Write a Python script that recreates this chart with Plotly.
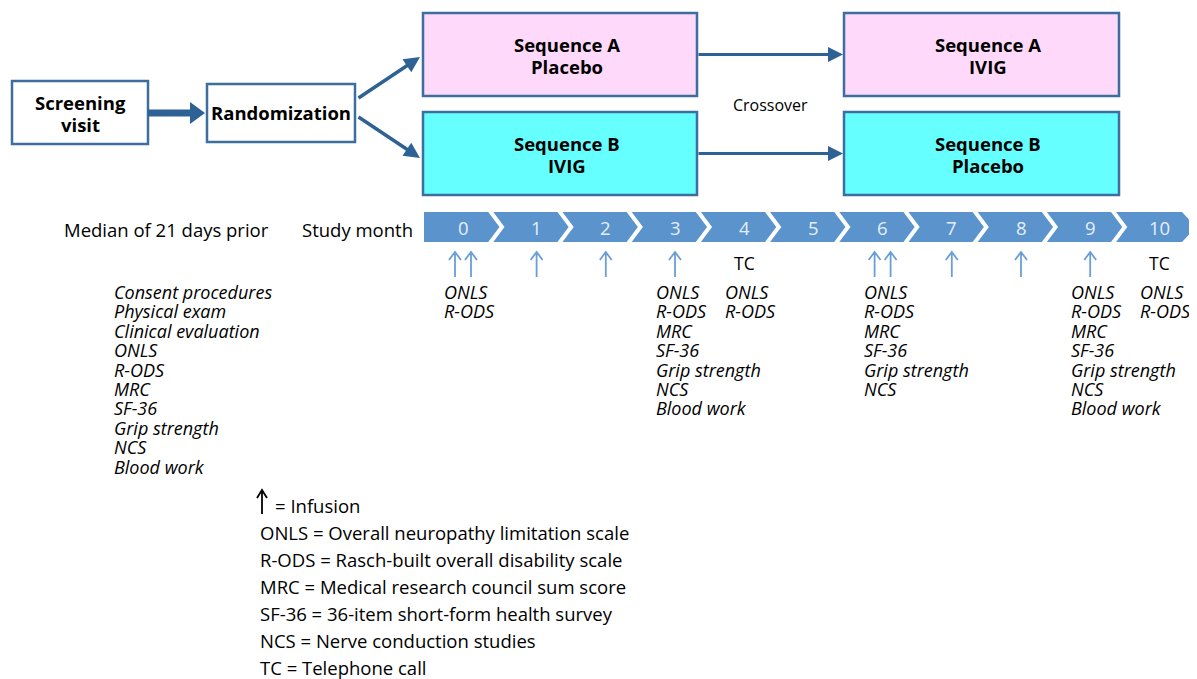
import plotly.graph_objects as go

# ---------------- data ----------------
months = list(range(11))
infusions_per_month = [2, 1, 1, 1, 0, 0, 2, 1, 1, 1, 0]
phone_call_months = [4, 10]
assess_months = [0, 3, 4, 6, 9, 10]
assess_lists = [
    ["ONLS", "R-ODS"],
    ["ONLS", "R-ODS", "MRC", "SF-36", "Grip strength", "NCS", "Blood work"],
    ["ONLS", "R-ODS"],
    ["ONLS", "R-ODS", "MRC", "SF-36", "Grip strength", "NCS"],
    ["ONLS", "R-ODS", "MRC", "SF-36", "Grip strength", "NCS", "Blood work"],
    ["ONLS", "R-ODS"],
]
screening_items = ["Consent procedures", "Physical exam", "Clinical evaluation", "ONLS",
                   "R-ODS", "MRC", "SF-36", "Grip strength", "NCS", "Blood work"]
legend_items = ["ONLS = Overall neuropathy limitation scale",
                "R-ODS = Rasch-built overall disability scale",
                "MRC = Medical research council sum score",
                "SF-36 = 36-item short-form health survey",
                "NCS = Nerve conduction studies",
                "TC = Telephone call"]
period1_labels = [["Sequence A", "Placebo"], ["Sequence B", "IVIG"]]
period2_labels = [["Sequence A", "IVIG"], ["Sequence B", "Placebo"]]
seq_fills = ["#FFD9F9", "#66FFFF"]

# ---------------- style ----------------
FONT = "Open Sans"
BORDER = "#3D6E9E"
ARROW = "#2F6294"
CHEV = "#5B93CD"
INF = "#6A9FD6"

W, H = 1197, 679
OFF = 8  # page offset of the plot div (body margin)
fig = go.Figure()
shapes, ann = [], []

def rect(x0, y0, x1, y1, fill, line=BORDER, lw=2.5):
    shapes.append(dict(type="rect", xref="x", yref="y", x0=x0, y0=y0, x1=x1, y1=y1,
                       fillcolor=fill, line=dict(color=line, width=lw), layer="above"))

def text(x, y, s, size=18.5, color="black", xanchor="center", yanchor="middle"):
    ann.append(dict(x=x, y=y, xref="x", yref="y", text=s, showarrow=False,
                    xanchor=xanchor, yanchor=yanchor, borderpad=0,
                    font=dict(family=FONT, size=size, color=color)))

def arrow(x0, y0, x1, y1, width=3.5, head=2, size=1.0, color=ARROW):
    ann.append(dict(x=x1, y=y1, ax=x0, ay=y0, xref="x", yref="y", axref="x", ayref="y",
                    text="", showarrow=True, arrowhead=head, arrowsize=size,
                    arrowwidth=width, arrowcolor=color, standoff=0, startstandoff=0))

def two_lines(xc, yc, lines, size=18.5, gap=22):
    text(xc, yc - gap / 2, "<b>" + lines[0] + "</b>", size=size)
    text(xc, yc + gap / 2, "<b>" + lines[1] + "</b>", size=size)

# ---------------- flow boxes ----------------
rect(12, 81, 148, 144, "white")
two_lines(80, 113, ["Screening", "visit"])
shapes.append(dict(type="path", xref="x", yref="y",
                   path="M 148,109.5 L 190,109.5 L 190,102 L 205,113 L 190,124 L 190,116.5 L 148,116.5 Z",
                   fillcolor=ARROW, line=dict(width=0)))
rect(207, 84, 355, 142, "white")
text(281, 112, "<b>Randomization</b>", size=18.5)

arrow(357, 99, 420, 57, width=3.5, size=0.9)
arrow(357, 116, 420, 158, width=3.5, size=0.9)

box_y = [(13, 96), (112, 195)]
for i in range(2):
    y0, y1 = box_y[i]
    rect(423, y0, 697, y1, seq_fills[i])
    two_lines(567, (y0 + y1) / 2 + 1, period1_labels[i])
    rect(844, y0, 1119, y1, seq_fills[i])
    two_lines(988, (y0 + y1) / 2 + 1, period2_labels[i])
    arrow(697, (y0 + y1) / 2, 843, (y0 + y1) / 2, width=3, size=1.0)

text(770, 105, "Crossover", size=16)

# ---------------- timeline ----------------
tl_y0, tl_y1 = 212, 242
tl_mid = (tl_y0 + tl_y1) / 2
start_x = 424
b0, step, depth = 490, 69.2, 12
bounds = [b0 + step * k for k in range(len(months))]
end_x = bounds[-1]
shapes.append(dict(type="path", xref="x", yref="y",
                   path=f"M {start_x},{tl_y0} L {end_x},{tl_y0} L {end_x + depth + 2},{tl_mid} "
                        f"L {end_x},{tl_y1} L {start_x},{tl_y1} Z",
                   fillcolor=CHEV, line=dict(width=0)))
for k in range(len(months) - 1):
    b = bounds[k]
    shapes.append(dict(type="path", xref="x", yref="y",
                       path=f"M {b},{tl_y0 - 1} L {b + depth},{tl_mid} L {b},{tl_y1 + 1}",
                       line=dict(color="white", width=4)))

def month_x(m):
    if m == 0:
        return (start_x + bounds[0]) / 2 + 6
    return (bounds[m - 1] + bounds[m]) / 2 + depth

for m in months:
    text(month_x(m), tl_mid, str(m), size=18.5, color="#E6EFF8")

text(166, 229, "Median of 21 days prior", size=18.5)
text(414, 229, "Study month", size=18.5, xanchor="right")

def up_arrow(x, y_top, y_bot, color, lw=1.8, hw=6, hh=8):
    shapes.append(dict(type="path", xref="x", yref="y",
                       path=f"M {x},{y_bot} L {x},{y_top} M {x - hw},{y_top + hh} L {x},{y_top} L {x + hw},{y_top + hh}",
                       line=dict(color=color, width=lw)))

for m, n in zip(months, infusions_per_month):
    cx = month_x(m)
    if n == 1:
        up_arrow(cx, 252, 277, INF)
    elif n == 2:
        up_arrow(cx - 8, 252, 277, INF)
        up_arrow(cx + 8, 252, 277, INF)

for m in phone_call_months:
    text(month_x(m), 263, "TC", size=17.5)

line_h = 19.4
for m, items in zip(assess_months, assess_lists):
    x = month_x(m) - 20
    for j, it in enumerate(items):
        text(x, 292 + j * line_h, f"<i>{it}</i>", size=18, xanchor="left")

for j, it in enumerate(screening_items):
    text(113, 292 + j * line_h, f"<i>{it}</i>", size=18, xanchor="left")

# ---------------- legend ----------------
up_arrow(262, 490, 514, "black", lw=1.8, hw=5, hh=8)
text(274, 505, "= Infusion", size=18.5, xanchor="left")
for j, it in enumerate(legend_items):
    text(259, 532 + j * 27, it, size=18.5, xanchor="left")

fig.update_layout(
    width=W - OFF, height=H - OFF, autosize=False,
    margin=dict(l=0, r=0, t=0, b=0),
    paper_bgcolor="white", plot_bgcolor="white",
    xaxis=dict(range=[OFF, W], visible=False, fixedrange=True),
    yaxis=dict(range=[H, OFF], visible=False, fixedrange=True),
    shapes=shapes, annotations=ann, showlegend=False,
)
fig.write_html("out.html")
